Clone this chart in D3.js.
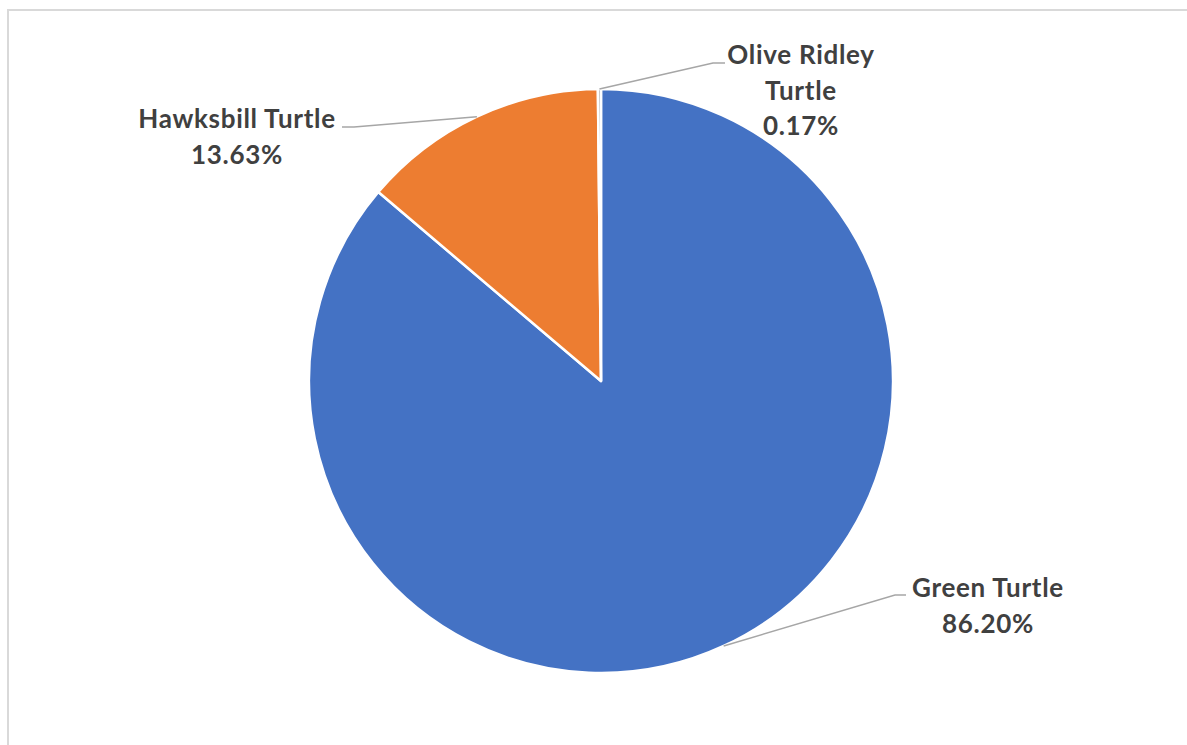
<!DOCTYPE html>
<html><head><meta charset="utf-8">
<script src="https://cdn.jsdelivr.net/npm/d3@7"></script>
<style>
html,body{margin:0;padding:0;background:#fff;}
svg{display:block;}
</style></head>
<body>
<script>
const categories = ["Green Turtle", "Hawksbill Turtle", "Olive Ridley Turtle"];
const values = [86.20, 13.63, 0.17];
const labelText = ["86.20%", "13.63%", "0.17%"];
const colors = ["#4472C4", "#ED7D31", "#A5A5A5"];
// label layout: lines, anchor center x, first baseline y, elbow point, line end
const labelLines = [["Green Turtle","86.20%"],["Hawksbill Turtle","13.63%"],["Olive Ridley","Turtle","0.17%"]];
const labelPos = [
  {x:988, y:597, elbow:[895,595], end:[906,595]},
  {x:237, y:128, elbow:[354,127], end:[342,127]},
  {x:801, y:64,  elbow:[713,63],  end:[725,63]}
];

const W=1187,H=745;
const svg=d3.select("body").append("svg").attr("width",W).attr("height",H);
svg.append("rect").attr("x",8).attr("y",10).attr("width",W+20).attr("height",H+20)
  .attr("fill","#fff").attr("stroke","#d9d9d9").attr("stroke-width",2);

const cx=601, cy=381, r=292;
const g=svg.append("g").attr("transform",`translate(${cx},${cy})`);
const pie=d3.pie().sort(null).value(d=>d)(values);
const arc=d3.arc().innerRadius(0).outerRadius(r);
g.selectAll("path.slice").data(pie).join("path").attr("class","slice")
  .attr("d",arc).attr("fill",(d,i)=>colors[i]).attr("stroke","#fff").attr("stroke-width",2.5).attr("stroke-linejoin","round");

// leader lines
pie.forEach((d,i)=>{
  const a=(d.startAngle+d.endAngle)/2;
  const sx=cx+Math.sin(a)*r, sy=cy-Math.cos(a)*r;
  const p=labelPos[i];
  svg.append("polyline").attr("points",`${sx},${sy} ${p.elbow[0]},${p.elbow[1]} ${p.end[0]},${p.end[1]}`)
    .attr("fill","none").attr("stroke","#a6a6a6").attr("stroke-width",1.5);
  const t=svg.append("text").attr("text-anchor","middle")
    .attr("font-family","Lato, 'Open Sans', sans-serif").attr("font-weight","bold")
    .attr("font-size",26).attr("letter-spacing","0.7px").attr("fill","#404040");
  labelLines[i].forEach((s,j)=>{
    t.append("tspan").attr("x",p.x).attr("y",p.y+ (j*35.5) ).text(s);
  });
});
</script>
</body></html>
